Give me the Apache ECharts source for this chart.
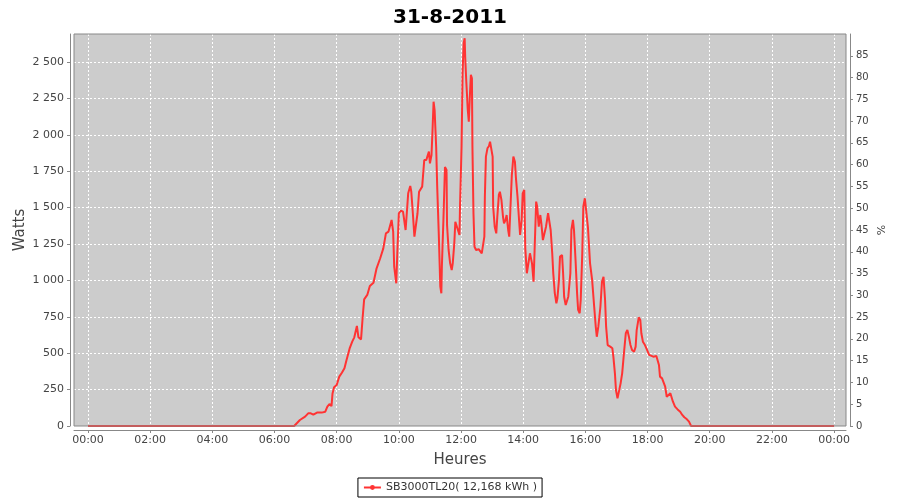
<!DOCTYPE html>
<html><head><meta charset="utf-8">
<script src="https://cdn.jsdelivr.net/npm/echarts@6/dist/echarts.min.js"></script>
<style>html,body{margin:0;padding:0;background:#fff}#c{width:900px;height:500px}</style>
</head><body><div id="c"></div>
<script>
const chartTitle = '31-8-2011';
const seriesName = 'SB3000TL20( 12,168 kWh )';
const times = ['00:00','06:38','06:43','06:49','06:59','07:05','07:10','07:15','07:22','07:31','07:38','07:42','07:46','07:50','07:52','07:55',
'08:00','08:05','08:10','08:15','08:19','08:25','08:30','08:34','08:39','08:42','08:47','08:50','08:53','08:59','09:04','09:11','09:17','09:24',
'09:30','09:35','09:40','09:43','09:46','09:49','09:51','09:55','09:57','10:00','10:04','10:08','10:10','10:13','10:15','10:18','10:22','10:24',
'10:27','10:30','10:33','10:36','10:39','10:42','10:45','10:49','10:53','10:55','10:58','11:00','11:03','11:05','11:07','11:09','11:12','11:14',
'11:17','11:20','11:22','11:23','11:26','11:29','11:32','11:33','11:36','11:39','11:42','11:44','11:47','11:49','11:52','11:54','11:57','11:58',
'12:01','12:03','12:05','12:07','12:08','12:10','12:13','12:15','12:17','12:19','12:21','12:22','12:24','12:26','12:29','12:34','12:37','12:40',
'12:42','12:45','12:46','12:48','12:51','12:54','12:56','12:59','13:01','13:02','13:05','13:08','13:10','13:13','13:15','13:18','13:21','13:23',
'13:26','13:28','13:31','13:33','13:38','13:41','13:44','13:46','13:49','13:52','13:54','13:57','13:59','14:02','14:04','14:07','14:10','14:13',
'14:17','14:20','14:22','14:25','14:27','14:30','14:33','14:35','14:38','14:41','14:44','14:48','14:51','14:53','14:56','14:58','15:01','15:04',
'15:06','15:09','15:11','15:15','15:17','15:19','15:22','15:24','15:27','15:31','15:33','15:36','15:38','15:41','15:44','15:46','15:49','15:51',
'15:54','15:56','15:59','16:02','16:05','16:09','16:13','16:17','16:20','16:22','16:25','16:29','16:32','16:35','16:38','16:40','16:43','16:48',
'16:52','16:54','16:57','16:59','17:02','17:05','17:08','17:11','17:15','17:18','17:21','17:24','17:27','17:30','17:34','17:37','17:39','17:43',
'17:46','17:48','17:51','17:55','17:59','18:03','18:06','18:11','18:17','18:20','18:22','18:24','18:28','18:31','18:34','18:37','18:40','18:44',
'18:46','18:49','18:53','18:58','19:03','19:07','19:11','19:16','19:20','19:24','24:00'];
const watts = [0,0,19,41,64,87,87,78,92,92,98,133,151,137,224,266,
282,339,366,396,453,533,579,609,687,609,595,740,870,900,962,984,1083,1152,
1220,1323,1335,1323,1415,1335,1094,980,1186,1461,1479,1472,1483,1346,1335,1598,1648,1609,
1461,1300,1300,1461,1609,1598,1644,1827,1827,1850,1884,1804,1861,2033,2227,2170,1918,1644,
1323,957,911,1094,1415,1779,1758,1380,1209,1117,1071,1117,1255,1403,1403,1346,1312,1506,
1918,2422,2628,2663,2536,2376,2170,2090,2262,2411,2388,1918,1461,1231,1209,1214,1209,1186,
1174,1300,1575,1850,1907,1923,1953,1964,1850,1506,1369,1323,1437,1587,1609,1552,1437,1392,
1415,1449,1346,1300,1720,1850,1815,1701,1575,1415,1312,1415,1598,1621,1220,1049,1037,1186,
1117,991,1209,1541,1506,1369,1449,1392,1277,1266,1369,1461,1472,1346,1186,1049,911,843,
877,1003,1163,1174,1049,888,831,819,888,1049,1346,1415,1346,1140,911,797,774,865,
1186,1506,1564,1560,1360,1117,1003,819,682,613,682,819,991,1025,865,682,556,545,
534,476,362,247,190,190,293,362,522,637,659,613,556,522,510,545,659,746,
728,637,579,556,522,488,476,476,481,476,419,339,327,327,270,201,190,225,
236,167,133,114,98,76,60,46,30,0,0];
const xTickMinutes = [0,120,240,360,480,600,720,840,960,1080,1200,1320,1440];
const xTickLabels = ['00:00','02:00','04:00','06:00','08:00','10:00','12:00','14:00','16:00','18:00','20:00','22:00','00:00'];
const wattTicks = [0,250,500,750,1000,1250,1500,1750,2000,2250,2500];
const pctTicks = [0,5,10,15,20,25,30,35,40,45,50,55,60,65,70,75,80,85];

function toMin(t){const p=t.split(':');return (+p[0])*60+(+p[1]);}
const data = times.map((t,i)=>[toMin(t), watts[i]]);
function fmtThousands(v){const s=String(v);return s.length>3? s.slice(0,s.length-3)+' '+s.slice(-3) : s;}

const FONT = 'DejaVu Sans';
const axisGray = '#888888';
const labelColor = '#444444';
const chart = echarts.init(document.getElementById('c'), null, {renderer:'canvas'});
chart.setOption({
  backgroundColor:'#ffffff',
  animation:false,
  textStyle:{fontFamily:FONT},
  title:{text:chartTitle,left:'center',top:3,textStyle:{fontFamily:FONT,fontSize:20,fontWeight:'bold',color:'#000'}},
  graphic:[{type:'rect',z:-1,silent:true,shape:{x:74,y:34,width:772,height:392},style:{fill:'#cccccc'}}],
  grid:{left:74,right:54,top:34,bottom:74,show:true,backgroundColor:'transparent',borderColor:'#888888',borderWidth:1,z:3},
  legend:{bottom:3,left:'center',padding:[4,5,4,5],borderColor:'#000',borderWidth:1,borderRadius:0,itemWidth:17,itemHeight:6,
    textStyle:{fontFamily:FONT,fontSize:11,color:'#333'},data:[seriesName]},
  xAxis:{type:'value',min:-27,max:1463,offset:4,
    name:'Heures',nameLocation:'middle',nameGap:23,nameMoveOverlap:false,nameTextStyle:{fontFamily:FONT,fontSize:15,color:labelColor},
    axisLine:{show:true,onZero:false,lineStyle:{color:axisGray}},
    axisTick:{show:true,customValues:xTickMinutes,length:3,lineStyle:{color:axisGray}},
    axisLabel:{customValues:xTickMinutes,margin:5,fontFamily:FONT,fontSize:11,color:labelColor,
      formatter:function(v){const i=xTickMinutes.indexOf(v);return i>=0?xTickLabels[i]:'';}},
    splitLine:{show:true,lineStyle:{color:'#ffffff',type:[2,2],width:1}}},
  yAxis:[
    {type:'value',min:0,max:2692,position:'left',offset:4,
     name:'Watts',nameLocation:'middle',nameGap:42,nameMoveOverlap:false,nameTextStyle:{fontFamily:FONT,fontSize:15,color:labelColor},
     axisLine:{show:true,onZero:false,lineStyle:{color:axisGray}},
     axisTick:{show:true,customValues:wattTicks,length:3,lineStyle:{color:axisGray}},
     axisLabel:{customValues:wattTicks,margin:6,fontFamily:FONT,fontSize:11,color:labelColor,formatter:function(v){return fmtThousands(v);}},
     splitLine:{show:true,lineStyle:{color:'#ffffff',type:[2,2],width:1}}},
    {type:'value',min:0,max:90,position:'right',offset:4,
     name:'%',nameLocation:'middle',nameGap:27,nameMoveOverlap:false,nameTextStyle:{fontFamily:FONT,fontSize:11,color:labelColor},
     axisLine:{show:true,onZero:false,lineStyle:{color:axisGray}},
     axisTick:{show:true,customValues:pctTicks,length:3,lineStyle:{color:axisGray}},
     axisLabel:{customValues:pctTicks,margin:6,fontFamily:FONT,fontSize:10,color:labelColor},
     splitLine:{show:false}}
  ],
  series:[{name:seriesName,type:'line',data:data,xAxisIndex:0,yAxisIndex:0,
    showSymbol:false,symbol:'circle',symbolSize:3,
    lineStyle:{color:'#ff3333',width:2},itemStyle:{color:'#ff3333'},z:2}]
});
</script></body></html>
